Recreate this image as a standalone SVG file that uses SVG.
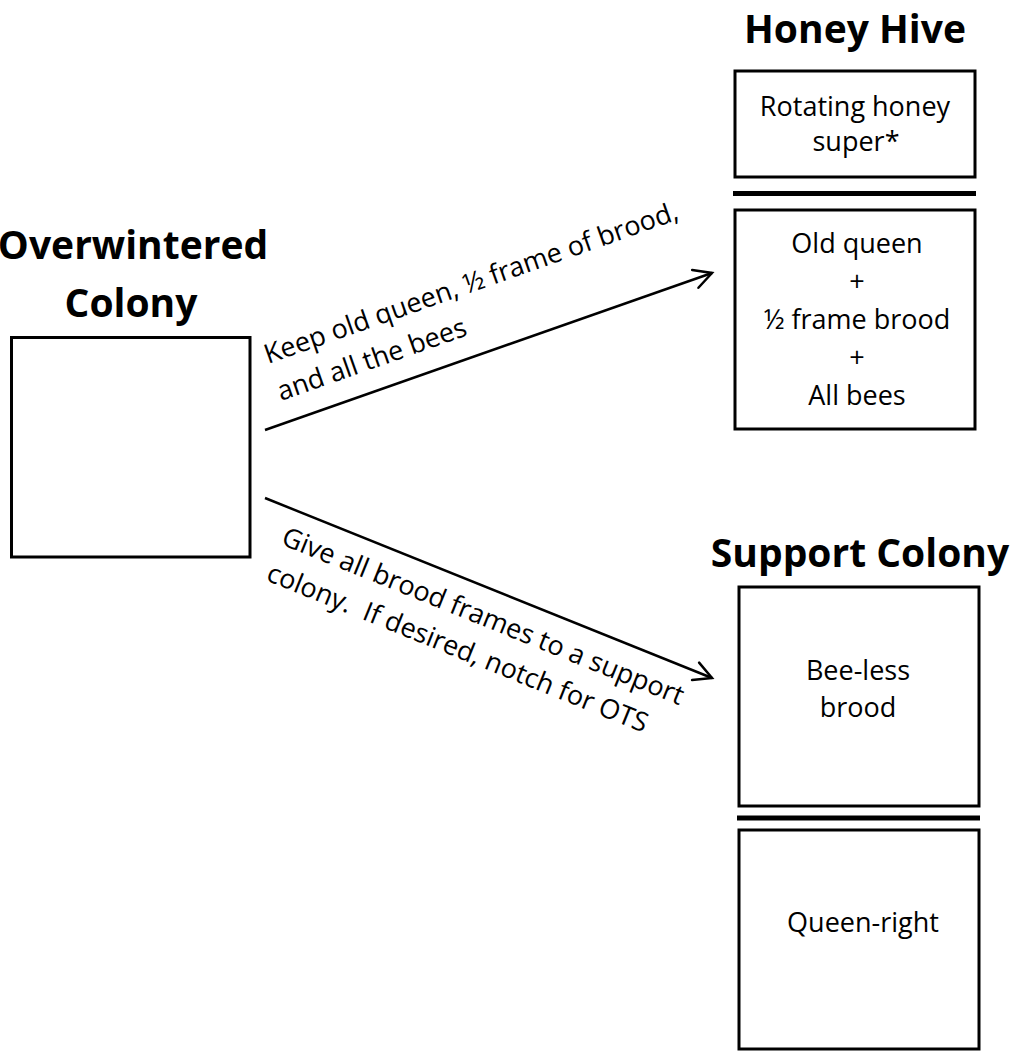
<svg xmlns="http://www.w3.org/2000/svg" width="1014" height="1051" viewBox="0 0 1014 1051">
<style>
.box{fill:#fff;stroke:#000;stroke-width:3}
.sep{stroke:#000;stroke-width:5}
.title{font-family:"Open Sans","Liberation Sans",sans-serif;font-weight:bold;font-size:39px;fill:#000;text-anchor:middle}
.body{font-family:"Open Sans","Liberation Sans",sans-serif;font-size:27px;fill:#000;text-anchor:middle}
.lbl{font-family:"Open Sans","Liberation Sans",sans-serif;font-size:27px;fill:#000}
.conn{stroke:#000;stroke-width:2.5;fill:none}
</style>
<defs>
<marker id="arr" markerUnits="userSpaceOnUse" markerWidth="30" markerHeight="30" refX="0" refY="0" viewBox="-25 -15 30 30" orient="auto" overflow="visible">
<path d="M-17.7,-9.4 L0,0 L-17.7,9.4" fill="none" stroke="#000" stroke-width="2.5" stroke-linecap="round" stroke-linejoin="miter"/>
</marker>
</defs>
<rect width="1014" height="1051" fill="#fff"/>

<g id="overwintered">
<text class="title" x="133" y="259">Overwintered</text>
<text class="title" x="131" y="317">Colony</text>
<rect class="box" x="11.5" y="337.5" width="238.5" height="219.5"/>
</g>

<g id="honey-hive">
<text class="title" x="855" y="43">Honey Hive</text>
<g id="honey-super">
<rect class="box" x="735" y="71" width="240" height="106"/>
<text class="body" x="855" y="116">Rotating honey</text>
<text class="body" x="856" y="151">super*</text>
</g>
<line class="sep" x1="733" y1="193.5" x2="976" y2="193.5"/>
<g id="honey-brood">
<rect class="box" x="735" y="210" width="240" height="219"/>
<text class="body" x="857" y="253">Old queen</text>
<text class="body" x="857" y="291">+</text>
<text class="body" x="857" y="329">½ frame brood</text>
<text class="body" x="857" y="367">+</text>
<text class="body" x="857" y="405">All bees</text>
</g>
</g>

<g id="support-colony">
<text class="title" x="860" y="567">Support Colony</text>
<g id="bee-less-brood">
<rect class="box" x="739" y="587" width="240" height="219"/>
<text class="body" x="858" y="680">Bee-less</text>
<text class="body" x="858" y="717">brood</text>
</g>
<line class="sep" x1="737" y1="818" x2="980" y2="818"/>
<g id="queen-right">
<rect class="box" x="739" y="830" width="240" height="219"/>
<text class="body" x="863" y="932">Queen-right</text>
</g>
</g>

<g id="connectors">
<line class="conn" x1="265" y1="430" x2="712" y2="273" marker-end="url(#arr)"/>
<line class="conn" x1="265" y1="498" x2="712" y2="678" marker-end="url(#arr)"/>
<text class="lbl" transform="translate(268,364) rotate(-19.4)">Keep old queen, ½ frame of brood,</text>
<text class="lbl" transform="translate(281,401) rotate(-19.4)">and all the bees</text>
<text class="lbl" transform="translate(280,544) rotate(22)">Give all brood frames to a support</text>
<text class="lbl" xml:space="preserve" transform="translate(265,580) rotate(22)">colony.  If desired, notch for OTS</text>
</g>
</svg>
